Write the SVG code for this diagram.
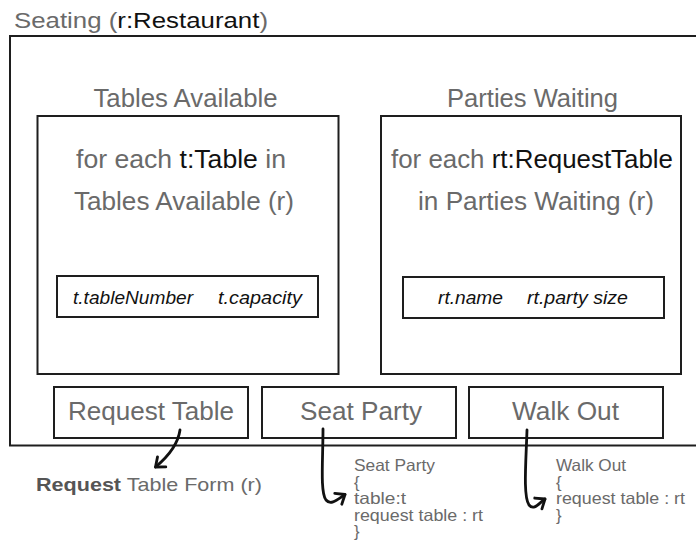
<svg xmlns="http://www.w3.org/2000/svg" width="696" height="541" viewBox="0 0 696 541">
<defs>
<style>
.box{fill:none;stroke:#1e1e1e;stroke-width:2}
.t{font-family:"Liberation Sans",Arial,sans-serif;fill:#6a6a6a}
.big{font-size:25px}
.attr{font-size:17.5px;font-style:italic;fill:#111}
.code{font-size:16.5px}
.k{fill:#111}
.conn{fill:none;stroke:#111;stroke-width:2.8;stroke-linecap:round;stroke-linejoin:round}
</style>
<marker id="ah" viewBox="-11 -9 14 18" markerWidth="14" markerHeight="18" refX="0" refY="0" orient="auto" markerUnits="userSpaceOnUse">
<path d="M-8,-6.5 L0,0 L-8,6.5" fill="none" stroke="#111" stroke-width="2.8" stroke-linecap="round" stroke-linejoin="round"/>
</marker>
</defs>
<rect width="696" height="541" fill="#fff"/>

<g id="seating">
<rect class="box" x="10" y="36" width="700" height="409.5"/>
<text class="t" x="14" y="27.5" font-size="22" textLength="254" lengthAdjust="spacingAndGlyphs">Seating (<tspan class="k">r:Restaurant</tspan>)</text>
</g>

<g id="tables-available">
<text class="t big" x="93.5" y="107" textLength="184" lengthAdjust="spacingAndGlyphs">Tables Available</text>
<rect class="box" x="37.5" y="116" width="301" height="258"/>
<text class="t big" x="76" y="168" textLength="210" lengthAdjust="spacingAndGlyphs">for each <tspan class="k">t:Table</tspan> in</text>
<text class="t big" x="74" y="209.5" textLength="220" lengthAdjust="spacingAndGlyphs">Tables Available (r)</text>
</g>

<g id="table-attributes">
<rect class="box" x="57" y="276" width="261" height="41"/>
<text class="t attr" x="73" y="304" textLength="120" lengthAdjust="spacingAndGlyphs">t.tableNumber</text>
<text class="t attr" x="218" y="304" textLength="84" lengthAdjust="spacingAndGlyphs">t.capacity</text>
</g>

<g id="parties-waiting">
<text class="t big" x="447" y="107" textLength="171" lengthAdjust="spacingAndGlyphs">Parties Waiting</text>
<rect class="box" x="381" y="116" width="300" height="258"/>
<text class="t big" x="391" y="168" textLength="282" lengthAdjust="spacingAndGlyphs">for each <tspan class="k">rt:RequestTable</tspan></text>
<text class="t big" x="418" y="209.5" textLength="236" lengthAdjust="spacingAndGlyphs">in Parties Waiting (r)</text>
</g>

<g id="party-attributes">
<rect class="box" x="403" y="277" width="261" height="41"/>
<text class="t attr" x="438" y="303.5" textLength="65" lengthAdjust="spacingAndGlyphs">rt.name</text>
<text class="t attr" x="527" y="303.5" textLength="101" lengthAdjust="spacingAndGlyphs">rt.party size</text>
</g>

<g id="btn-request-table">
<rect class="box" x="54" y="387" width="194" height="51"/>
<text class="t big" x="68" y="420" textLength="166" lengthAdjust="spacingAndGlyphs">Request Table</text>
</g>

<g id="btn-seat-party">
<rect class="box" x="262" y="387" width="194" height="51"/>
<text class="t big" x="300" y="420" textLength="122" lengthAdjust="spacingAndGlyphs">Seat Party</text>
</g>

<g id="btn-walk-out">
<rect class="box" x="469" y="387" width="194" height="51"/>
<text class="t big" x="512" y="420" textLength="107" lengthAdjust="spacingAndGlyphs">Walk Out</text>
</g>

<g id="request-table-form">
<text class="t" x="36" y="491" font-size="19" textLength="226" lengthAdjust="spacingAndGlyphs"><tspan font-weight="bold" fill="#555">Request</tspan> Table Form (r)</text>
</g>

<g id="seat-party-code">
<text class="t code" x="354" y="471" textLength="81" lengthAdjust="spacingAndGlyphs">Seat Party</text>
<text class="t code" x="354" y="487.5">{</text>
<text class="t code" x="354" y="504" textLength="52" lengthAdjust="spacingAndGlyphs">table:t</text>
<text class="t code" x="354" y="520.5" textLength="129" lengthAdjust="spacingAndGlyphs">request table : rt</text>
<text class="t code" x="354" y="537">}</text>
</g>

<g id="walk-out-code">
<text class="t code" x="556" y="471" textLength="70" lengthAdjust="spacingAndGlyphs">Walk Out</text>
<text class="t code" x="556" y="487.5">{</text>
<text class="t code" x="556" y="504" textLength="129" lengthAdjust="spacingAndGlyphs">request table : rt</text>
<text class="t code" x="556" y="520.5">}</text>
</g>

<g id="connectors">
<path class="conn" d="M180,430 C178,444 170,455 155.5,467" marker-end="url(#ah)"/>
<path class="conn" d="M323,429 C323,460 320,492 326,500 C331,506 338,499 345,494.5" marker-end="url(#ah)"/>
<path class="conn" d="M527,430 C526,462 523,496 529,505 C534,511 539,503 545,499" marker-end="url(#ah)"/>
</g>
</svg>
